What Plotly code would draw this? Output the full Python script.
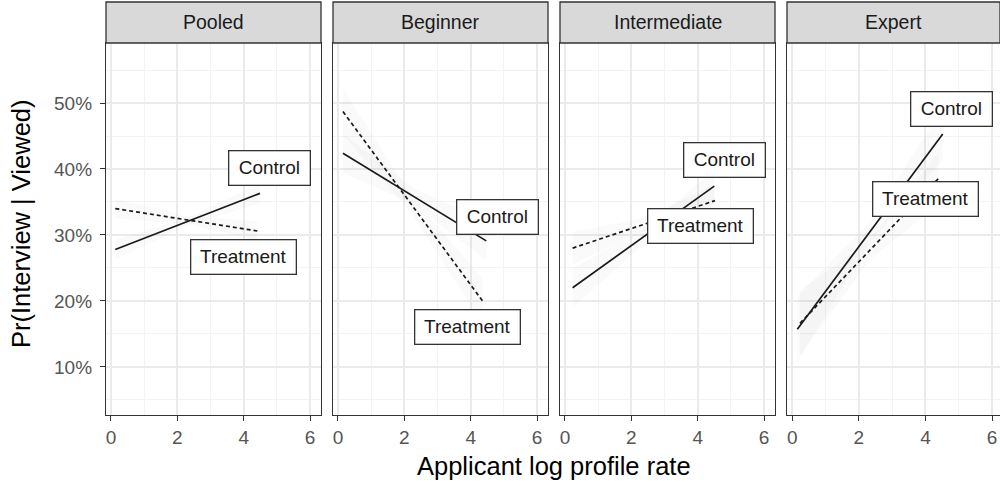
import plotly.graph_objects as go

# ---- data -----------------------------------------------------------------
panels = ["Pooled", "Beginner", "Intermediate", "Expert"]

# fitted lines (start, end) : x in log profile rate, y in percent
control_x = [[0.13, 4.49], [0.15, 4.47], [0.23, 4.50], [0.15, 4.52]]
control_y = [[27.8, 36.3], [42.4, 29.1], [22.0, 37.4], [15.7, 45.3]]
treatment_x = [[0.13, 4.41], [0.15, 4.37], [0.23, 4.52], [0.23, 4.40]]
treatment_y = [[34.0, 30.6], [48.7, 19.9], [28.0, 35.2], [16.6, 38.6]]

# confidence bands (start, middle, end)
control_band_x = [[0.13, 2.3, 4.49], [0.15, 2.31, 4.47], [0.23, 2.37, 4.50], [0.15, 2.33, 4.52]]
control_band_lo = [[26.3, 31.4, 34.8], [39.4, 34.6, 26.1], [19.0, 28.5, 34.9], [10.7, 29.0, 41.3]]
control_band_hi = [[29.3, 32.6, 37.8], [45.4, 37.0, 32.1], [25.0, 30.9, 39.9], [20.7, 32.0, 49.3]]
treatment_band_x = [[0.13, 2.27, 4.41], [0.15, 2.26, 4.37], [0.23, 2.37, 4.52], [0.23, 2.31, 4.40]]
treatment_band_lo = [[32.5, 31.7, 29.1], [45.2, 33.0, 16.4], [25.5, 30.6, 32.7], [11.6, 26.1, 34.6]]
treatment_band_hi = [[35.5, 32.9, 32.1], [52.2, 35.6, 23.4], [30.5, 32.6, 37.7], [21.6, 29.1, 42.6]]

# direct labels
label_control_x = [4.79, 4.82, 4.82, 4.77]
label_control_y = [40.2, 32.7, 41.3, 49.1]
label_treatment_x = [4.00, 3.90, 4.07, 4.00]
label_treatment_y = [26.6, 16.0, 31.4, 35.5]

x_ticks = [0, 2, 4, 6]
y_ticks = [10, 20, 30, 40, 50]
y_tick_text = ["10%", "20%", "30%", "40%", "50%"]

# ---- layout geometry --------------------------------------------------------
W, H = 1000, 487
panel_px = [(106, 321), (333, 548), (560, 775), (787, 1000)]
plot_top_px, plot_bot_px, strip_top_px = 43, 415, 2
y_dom = [1 - plot_bot_px / H, 1 - plot_top_px / H]

FONT = "Liberation Sans, Arial, sans-serif"
BORDER = "#333333"
TICK_GREY = "#555555"

fig = go.Figure()
layout = dict(
    width=W, height=H,
    margin=dict(l=0, r=0, t=0, b=0),
    paper_bgcolor="white", plot_bgcolor="white",
    showlegend=False,
    font=dict(family=FONT, color=TICK_GREY),
)
annotations = []
shapes = []
label_width = {"Control": 68, "Treatment": 92}

for i, name in enumerate(panels):
    k = "" if i == 0 else str(i + 1)
    xa, ya = "x" + k, "y" + k
    x0p, x1p = panel_px[i]
    dom = [x0p / W, x1p / W]
    layout["xaxis" + k] = dict(
        domain=dom, range=[-0.15, 6.33] if i < 3 else [-0.16, 6.24], anchor=ya,
        tickvals=x_ticks, ticks="outside", ticklen=5, tickwidth=1.3, tickcolor=BORDER,
        tickfont=dict(size=19, color=TICK_GREY, family=FONT),
        showgrid=True, gridcolor="#EBEBEB", gridwidth=1.5,
        minor=dict(dtick=1, tick0=1, showgrid=True, gridcolor="#F3F3F3", gridwidth=1),
        showline=True, mirror=True, linecolor=BORDER, linewidth=1.3,
        zeroline=False, fixedrange=True,
    )
    layout["yaxis" + k] = dict(
        domain=y_dom, range=[2.7, 59.1], anchor=xa,
        tickmode="array", tickvals=y_ticks, ticktext=y_tick_text,
        showticklabels=(i == 0), ticklabelstandoff=4,
        ticks="outside" if i == 0 else "", ticklen=5, tickwidth=1.3, tickcolor=BORDER,
        tickfont=dict(size=19, color=TICK_GREY, family=FONT),
        showgrid=True, gridcolor="#EBEBEB", gridwidth=1.5,
        minor=dict(dtick=10, tick0=5, showgrid=True, gridcolor="#F3F3F3", gridwidth=1),
        showline=True, mirror=True, linecolor=BORDER, linewidth=1.3,
        zeroline=False, fixedrange=True,
    )

    # confidence bands
    for bx, lo, hi in ((control_band_x[i], control_band_lo[i], control_band_hi[i]),
                       (treatment_band_x[i], treatment_band_lo[i], treatment_band_hi[i])):
        fig.add_trace(go.Scatter(
            x=bx + bx[::-1], y=hi + lo[::-1], xaxis=xa, yaxis=ya,
            mode="lines", fill="toself", fillcolor="rgba(0,0,0,0.02)",
            line=dict(width=0), hoverinfo="skip",
        ))

    # fitted lines
    fig.add_trace(go.Scatter(
        x=treatment_x[i], y=treatment_y[i], xaxis=xa, yaxis=ya, mode="lines",
        line=dict(color="#1a1a1a", width=1.7, dash="4px,3px"), name="Treatment",
    ))
    fig.add_trace(go.Scatter(
        x=control_x[i], y=control_y[i], xaxis=xa, yaxis=ya, mode="lines",
        line=dict(color="#1a1a1a", width=1.7), name="Control",
    ))

    # boxed labels
    for txt, lx, ly in (("Control", label_control_x[i], label_control_y[i]),
                        ("Treatment", label_treatment_x[i], label_treatment_y[i])):
        annotations.append(dict(
            x=lx, y=ly, xref=xa, yref=ya, text=txt, showarrow=False,
            width=label_width[txt],
            font=dict(size=19, color="#1a1a1a", family=FONT),
            bgcolor="white", bordercolor=BORDER, borderwidth=1.3, borderpad=6,
        ))

    # facet strip
    shapes.append(dict(
        type="rect", xref="paper", yref="paper",
        x0=dom[0], x1=dom[1], y0=y_dom[1], y1=1 - strip_top_px / H,
        fillcolor="#D9D9D9", line=dict(color=BORDER, width=1.3), layer="above",
    ))
    annotations.append(dict(
        x=(dom[0] + dom[1]) / 2, y=1 - (strip_top_px + plot_top_px) / 2 / H,
        xref="paper", yref="paper", text=name, showarrow=False,
        xanchor="center", yanchor="middle",
        font=dict(size=19.5, color="#1A1A1A", family=FONT),
    ))

# axis titles
annotations.append(dict(
    x=554 / W, y=1 - 466 / H, xref="paper", yref="paper",
    text="Applicant log profile rate", showarrow=False,
    xanchor="center", yanchor="middle",
    font=dict(size=25.5, color="black", family=FONT),
))
annotations.append(dict(
    x=21 / W, y=1 - 224 / H, xref="paper", yref="paper",
    text="Pr(Interview | Viewed)", showarrow=False, textangle=-90,
    xanchor="center", yanchor="middle",
    font=dict(size=25.5, color="black", family=FONT),
))

layout["annotations"] = annotations
layout["shapes"] = shapes
fig.update_layout(**layout)

fig.write_html("out.html")
